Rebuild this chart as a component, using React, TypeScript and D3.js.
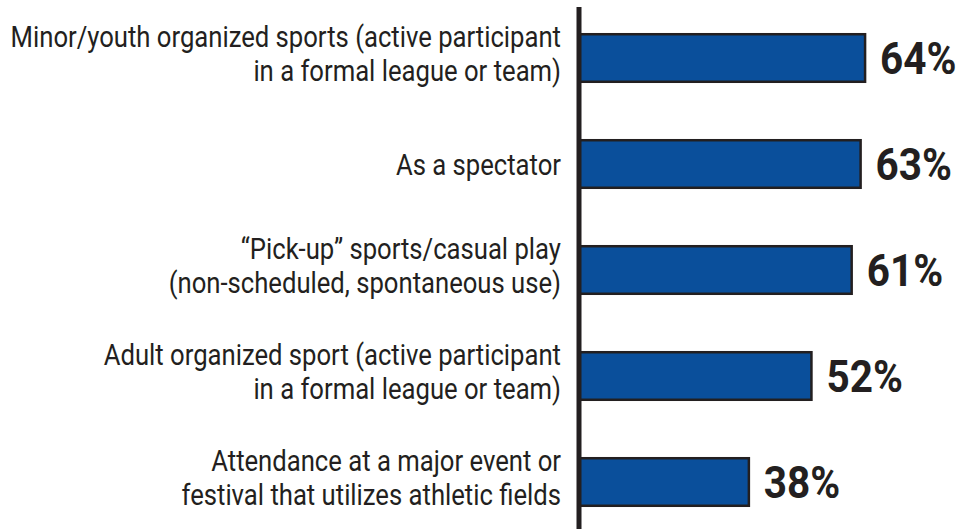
import React from "react";
import * as d3 from "d3";

const categories: string[][] = [
  ["Minor/youth organized sports (active participant", "in a formal league or team)"],
  ["As a spectator"],
  ["“Pick-up” sports/casual play", "(non-scheduled, spontaneous use)"],
  ["Adult organized sport (active participant", "in a formal league or team)"],
  ["Attendance at a major event or", "festival that utilizes athletic fields"],
];
const values: number[] = [64, 63, 61, 52, 38];
const valueLabels: string[] = ["64%", "63%", "61%", "52%", "38%"];

const W = 976;
const H = 529;
const INK = "#231f20";
const BLUE = "#0a4f9b";
const LABEL_SX = 0.87;
const VALUE_SX = 0.9;

export default function App() {
  const keys = categories.map((_, i) => String(i));
  const y = d3.scaleBand<string>().domain(keys).range([5, 535]).paddingInner(0.528).paddingOuter(0.264);
  const x = d3.scaleLinear().domain([0, 100]).range([579, 579 + 447]);
  const labelRight = 561;
  const lh = 34;
  return (
    <svg width={W} height={H} style={{ position: "absolute", left: 0, top: 0, background: "#fff" }}>
      {values.map((v, i) => {
        const yy = y(String(i))!;
        const bw = y.bandwidth();
        const cy = yy + bw / 2;
        const lines = categories[i];
        const firstBase = lines.length === 1 ? cy + 11 : cy - 11.5;
        return (
          <g key={i}>
            <rect x={x(0)} y={yy + 1.25} width={x(v) - x(0)} height={bw - 2.5} fill={BLUE} stroke={INK} strokeWidth={2.5} />
            <g transform={`translate(${x(v) + 15},${cy + 16}) scale(${VALUE_SX},1)`}>
              <text x={0} y={0} fontFamily="Roboto, 'Liberation Sans', sans-serif" fontWeight={700} fontSize={45} fill={INK}>
                {valueLabels[i]}
              </text>
            </g>
            {lines.map((ln, j) => (
              <g key={j} transform={`translate(${labelRight},${firstBase + j * lh}) scale(${LABEL_SX},1)`}>
                <text x={0} y={0} textAnchor="end" fontFamily="Roboto, 'Liberation Sans', sans-serif" fontSize={29.5} fill={INK}>
                  {ln}
                </text>
              </g>
            ))}
          </g>
        );
      })}
      <line x1={x(0)} x2={x(0)} y1={7} y2={H} stroke={INK} strokeWidth={5} />
    </svg>
  );
}
